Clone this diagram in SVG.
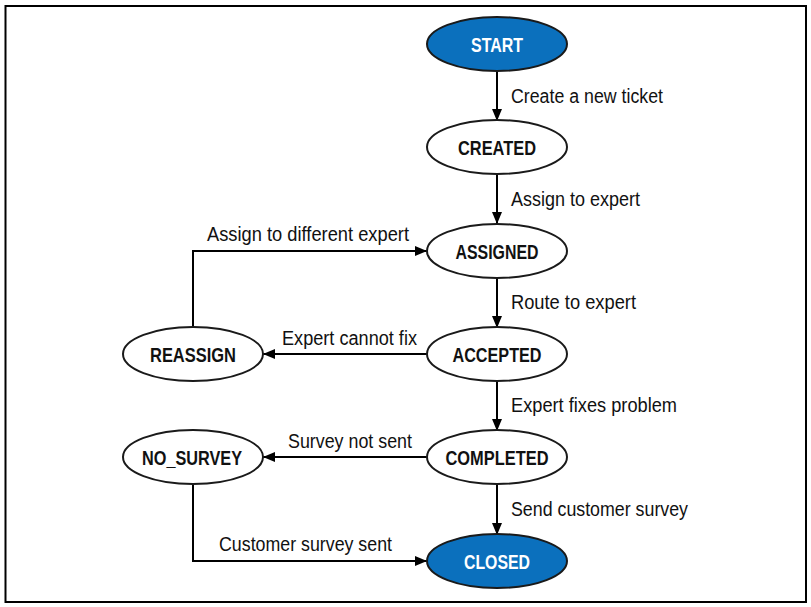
<svg xmlns="http://www.w3.org/2000/svg" width="811" height="607" viewBox="0 0 811 607">
<defs>
<marker id="ah" viewBox="0 0 12 10" refX="12" refY="5" markerWidth="12" markerHeight="10" markerUnits="userSpaceOnUse" orient="auto">
<path d="M0,0 L12,5 L0,10 Z" fill="#000"/>
</marker>
</defs>
<style>
.n{fill:#fff;stroke:#1a1a1a;stroke-width:2}
.b{fill:#0b70bd;stroke:#1a1a1a;stroke-width:2}
.nt{font-family:"Liberation Sans",Arial,sans-serif;font-weight:bold;font-size:21px;fill:#111;text-anchor:middle}
.bt{fill:#fff}
.c{fill:none;stroke:#000;stroke-width:2;marker-end:url(#ah)}
.l{font-family:"Liberation Sans",Arial,sans-serif;font-size:19.5px;fill:#111}
</style>
<rect x="5.5" y="6" width="800.5" height="596" fill="#fff" stroke="#000" stroke-width="2"/>
<g id="connectors">
<path class="c" d="M497,71 V121"/>
<path class="c" d="M497,174 V224"/>
<path class="c" d="M497,277 V328"/>
<path class="c" d="M497,381 V431"/>
<path class="c" d="M497,484 V535"/>
<path class="c" d="M427,354 H263"/>
<path class="c" d="M193,328 V251 H427"/>
<path class="c" d="M427,457 H263"/>
<path class="c" d="M193,484 V561 H427"/>
<text class="l" x="511" y="103" textLength="152" lengthAdjust="spacingAndGlyphs">Create a new ticket</text>
<text class="l" x="511" y="206" textLength="129" lengthAdjust="spacingAndGlyphs">Assign to expert</text>
<text class="l" x="511" y="309" textLength="125" lengthAdjust="spacingAndGlyphs">Route to expert</text>
<text class="l" x="511" y="412" textLength="166" lengthAdjust="spacingAndGlyphs">Expert fixes problem</text>
<text class="l" x="511" y="516" textLength="177" lengthAdjust="spacingAndGlyphs">Send customer survey</text>
<text class="l" x="207" y="241" textLength="202" lengthAdjust="spacingAndGlyphs">Assign to different expert</text>
<text class="l" x="282" y="345" textLength="135" lengthAdjust="spacingAndGlyphs">Expert cannot fix</text>
<text class="l" x="288" y="448" textLength="124" lengthAdjust="spacingAndGlyphs">Survey not sent</text>
<text class="l" x="219" y="551" textLength="173" lengthAdjust="spacingAndGlyphs">Customer survey sent</text>
</g>
<g id="start"><ellipse class="b" cx="497" cy="44" rx="70" ry="27"/><text class="nt bt" x="497" y="51.5" textLength="52" lengthAdjust="spacingAndGlyphs">START</text></g>
<g id="created"><ellipse class="n" cx="497" cy="147" rx="70" ry="27"/><text class="nt" x="497" y="154.5" textLength="78" lengthAdjust="spacingAndGlyphs">CREATED</text></g>
<g id="assigned"><ellipse class="n" cx="497" cy="251" rx="70" ry="27"/><text class="nt" x="497" y="258.5" textLength="83" lengthAdjust="spacingAndGlyphs">ASSIGNED</text></g>
<g id="accepted"><ellipse class="n" cx="497" cy="354" rx="70" ry="27"/><text class="nt" x="497" y="361.5" textLength="89" lengthAdjust="spacingAndGlyphs">ACCEPTED</text></g>
<g id="completed"><ellipse class="n" cx="497" cy="457" rx="70" ry="27"/><text class="nt" x="497" y="464.5" textLength="103" lengthAdjust="spacingAndGlyphs">COMPLETED</text></g>
<g id="closed"><ellipse class="b" cx="497" cy="561" rx="70" ry="27"/><text class="nt bt" x="497" y="568.5" textLength="66" lengthAdjust="spacingAndGlyphs">CLOSED</text></g>
<g id="reassign"><ellipse class="n" cx="193" cy="354" rx="70" ry="27"/><text class="nt" x="193" y="361.5" textLength="86" lengthAdjust="spacingAndGlyphs">REASSIGN</text></g>
<g id="no_survey"><ellipse class="n" cx="193" cy="457" rx="70" ry="27"/><text class="nt" x="192" y="464.5" textLength="100" lengthAdjust="spacingAndGlyphs">NO_SURVEY</text></g>
</svg>
